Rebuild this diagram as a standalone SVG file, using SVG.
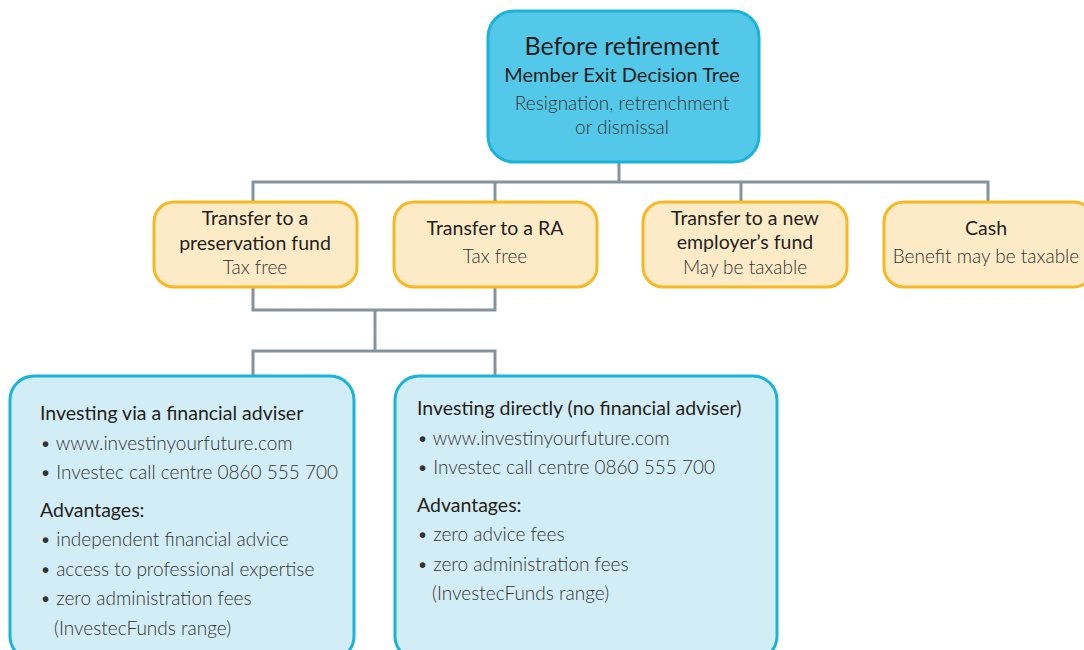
<svg xmlns="http://www.w3.org/2000/svg" width="1084" height="650" viewBox="0 0 1084 650">
<style>
.top{fill:#54c8e8;stroke:#1ab3d9;stroke-width:3}
.opt{fill:#fdebc8;stroke:#f6b823;stroke-width:3}
.inv{fill:#d2edf5;stroke:#1ab3d9;stroke-width:3}
.con{fill:none;stroke:#86939c;stroke-width:3}
text{font-family:Lato,"Liberation Sans",sans-serif;fill:#231f20}
.h{font-weight:400}
.l{font-weight:300;fill:#333}
.c{text-anchor:middle}
</style>
<rect width="1084" height="650" fill="#fff"/>
<g id="connectors">
<path class="con" d="M619 162V182M253 202V182H988V202M495 182V202M741 182V202"/>
<path class="con" d="M253 287V310H495V287M375 310V351M253 376V351H495V376"/>
</g>
<g id="root">
<rect class="top" x="488" y="11" width="271" height="151" rx="26"/>
<text class="c h" x="622" y="55" font-size="25">Before retirement</text>
<text class="c h" x="622" y="82" font-size="20">Member Exit Decision Tree</text>
<text class="c l" x="622" y="110" font-size="19">Resignation, retrenchment</text>
<text class="c l" x="622" y="134" font-size="19">or dismissal</text>
</g>
<g id="preservation">
<rect class="opt" x="154" y="202" width="203" height="85" rx="20"/>
<text class="c h" x="255" y="225" font-size="19.5">Transfer to a</text>
<text class="c h" x="255" y="250" font-size="19.5">preservation fund</text>
<text class="c l" x="255" y="274" font-size="19">Tax free</text>
</g>
<g id="ra">
<rect class="opt" x="394" y="202" width="203" height="85" rx="20"/>
<text class="c h" x="495" y="235" font-size="19.5">Transfer to a RA</text>
<text class="c l" x="495" y="263" font-size="19">Tax free</text>
</g>
<g id="employer">
<rect class="opt" x="643" y="202" width="204" height="85" rx="20"/>
<text class="c h" x="745" y="225" font-size="19.5">Transfer to a new</text>
<text class="c h" x="745" y="249" font-size="19.5">employer’s fund</text>
<text class="c l" x="745" y="274" font-size="19">May be taxable</text>
</g>
<g id="cash">
<rect class="opt" x="884" y="202" width="210" height="85" rx="20"/>
<text class="c h" x="986" y="235" font-size="19.5">Cash</text>
<text class="c l" x="986" y="263" font-size="19">Benefit may be taxable</text>
</g>
<g id="adviser">
<rect class="inv" x="10" y="376" width="344" height="284" rx="24"/>
<text class="h" x="40" y="420" font-size="19.5">Investing via a financial adviser</text>
<text class="l" x="40" y="450" font-size="19">• www.investinyourfuture.com</text>
<text class="l" x="40" y="479" font-size="19">• Investec call centre 0860 555 700</text>
<text class="h" x="40" y="517" font-size="19.5">Advantages:</text>
<text class="l" x="40" y="546" font-size="19">• independent financial advice</text>
<text class="l" x="40" y="576" font-size="19">• access to professional expertise</text>
<text class="l" x="40" y="605" font-size="19">• zero administration fees</text>
<text class="l" x="54" y="635" font-size="19">(InvestecFunds range)</text>
</g>
<g id="direct">
<rect class="inv" x="395" y="376" width="382" height="284" rx="24"/>
<text class="h" x="417" y="415" font-size="19.5">Investing directly (no financial adviser)</text>
<text class="l" x="417" y="445" font-size="19">• www.investinyourfuture.com</text>
<text class="l" x="417" y="474" font-size="19">• Investec call centre 0860 555 700</text>
<text class="h" x="417" y="512" font-size="19.5">Advantages:</text>
<text class="l" x="417" y="541" font-size="19">• zero advice fees</text>
<text class="l" x="417" y="571" font-size="19">• zero administration fees</text>
<text class="l" x="432" y="600" font-size="19">(InvestecFunds range)</text>
</g>
</svg>
